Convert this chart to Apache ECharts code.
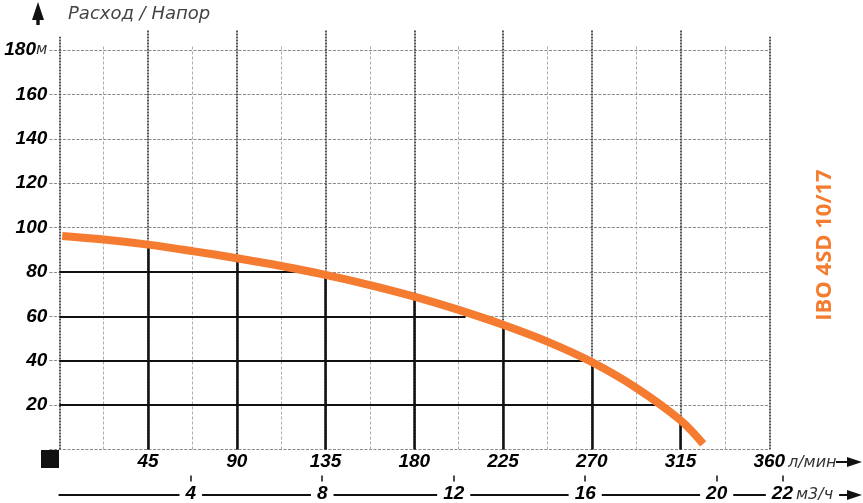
<!DOCTYPE html>
<html>
<head>
<meta charset="utf-8">
<script src="https://cdn.jsdelivr.net/npm/echarts@6/dist/echarts.min.js"></script>
<style>
  html, body { margin: 0; background: #fff; }
  #chart { width: 863px; height: 503px; }
</style>
</head>
<body>
<div id="chart"></div>
<script>
// axis ticks
const flowTicks = [45, 90, 135, 180, 225, 270, 315, 360]; // л/мин
const m3hTicks = [4, 8, 12, 16, 20, 22]; // м3/ч
const headTicks = [20, 40, 60, 80, 100, 120, 140, 160, 180]; // м
const gridY = [0, 20, 40, 60, 80, 100, 120, 140, 160, 180];
const majorX = [0, 45, 90, 135, 180, 225, 270, 315, 360];
const minorX = [22.5, 67.5, 112.5, 157.5, 202.5, 247.5, 292.5, 337.5];

// pump curve, [л/мин, м]
const pumpCurve = [
  [1.5, 96.2], [22.5, 94.6], [45, 92.3], [67.5, 89.4], [90, 86.2],
  [112.5, 82.7], [135, 78.7], [157.5, 74.1], [180, 68.9], [202.5, 62.9],
  [225, 56.2], [247.5, 48.6], [270, 39.4], [292.5, 27.8], [315, 13.2], [326.5, 2.5]
];
// black drop lines under the curve
const dropX = [45, 90, 135, 180, 225, 270, 315];
const levelEnds = [[20, 303.6], [40, 268], [60, 206], [80, 125]]; // [м, л/мин where curve crosses]

const FONT = '"Open Sans", "DejaVu Sans", sans-serif';
const NUMFONT = '"Liberation Sans", Arial, sans-serif';
const THIN = '"DejaVu Sans", sans-serif';
const ORANGE = '#F47B2F';

function headAt(x) {
  return pumpCurve.find(p => p[0] === x)[1];
}

const numStyle = {
  fontFamily: NUMFONT, fontSize: 19, fontWeight: 'bold', fontStyle: 'italic', color: '#000'
};

var chart = echarts.init(document.getElementById('chart'));
var option = {
  animation: false,
  backgroundColor: '#fff',
  grid: { left: 59.3, right: 54.3, top: 50, bottom: 53.5, containLabel: false, outerBoundsMode: 'none' },
  xAxis: [
    {
      type: 'value', min: 0, max: 380,
      axisLine: { show: false }, axisTick: { show: false }, splitLine: { show: false },
      axisLabel: Object.assign({ customValues: flowTicks, margin: 3 }, numStyle)
    },
    {
      type: 'value', min: 0, max: 22.8, position: 'bottom', offset: 26,
      axisLine: { show: false }, splitLine: { show: false },
      axisTick: { show: true, customValues: m3hTicks, length: 6, lineStyle: { color: '#111', width: 1.5 } },
      axisLabel: { show: false }
    },
    {
      type: 'value', min: 0, max: 22.8, position: 'bottom', offset: 45.5,
      axisLine: { show: true, lineStyle: { color: '#111', width: 2 } },
      axisTick: { show: false }, splitLine: { show: false },
      axisLabel: Object.assign({
        customValues: m3hTicks, margin: -11,
        backgroundColor: '#fff', padding: [0, 6]
      }, numStyle)
    }
  ],
  yAxis: {
    type: 'value', min: 0, max: 180, interval: 20,
    axisLine: { show: false }, axisTick: { show: false }, splitLine: { show: false },
    axisLabel: {
      customValues: headTicks, margin: 12,
      formatter: v => v === 180 ? '{n|180}{u|м}' : '{n|' + v + '}',
      rich: {
        n: numStyle,
        u: { fontFamily: THIN, fontSize: 15, fontWeight: 200, fontStyle: 'italic', color: '#333' }
      }
    }
  },
  series: [
    {
      type: 'lines', coordinateSystem: 'cartesian2d', clip: false, silent: true, z: 1,
      lineStyle: { color: '#888', width: 1, type: [3, 1.5], opacity: 1 },
      data: gridY.map(y => ({ coords: [[-5, y], [360, y]] }))
    },
    {
      type: 'lines', coordinateSystem: 'cartesian2d', clip: false, silent: true, z: 1,
      lineStyle: { color: '#aaa', width: 1, type: [3, 2], opacity: 1 },
      data: minorX.map(x => ({ coords: [[x, 0], [x, 182]] }))
    },
    {
      type: 'lines', coordinateSystem: 'cartesian2d', clip: false, silent: true, z: 1,
      lineStyle: { color: '#555', width: 2, type: [2, 1], opacity: 1 },
      data: majorX.map(x => ({ coords: [[x, 0], [x, (x === 0 || x === 360) ? 186 : 189]] }))
    },
    {
      type: 'lines', coordinateSystem: 'cartesian2d', clip: false, silent: true, z: 2,
      lineStyle: { color: '#111', width: 2.5, opacity: 1 },
      data: dropX.map(x => ({ coords: [[x, 0], [x, headAt(x)]] }))
    },
    {
      type: 'lines', coordinateSystem: 'cartesian2d', clip: false, silent: true, z: 2,
      lineStyle: { color: '#111', width: 2, opacity: 1 },
      data: levelEnds.map(([y, x]) => ({ coords: [[0, y], [x, y]] }))
    },
    {
      type: 'line', smooth: 0.35, symbol: 'none', z: 5, silent: true,
      lineStyle: { color: ORANGE, width: 8, cap: 'butt' },
      data: pumpCurve
    }
  ],
  graphic: [
    { type: 'rect', shape: { x: 41, y: 450, width: 18, height: 18 }, style: { fill: '#111' } },
    {
      type: 'polygon',
      shape: { points: [[38, 2], [44, 20], [39.7, 20], [39.7, 25], [36.3, 25], [36.3, 20], [32, 20]] },
      style: { fill: '#111' }
    },
    {
      type: 'text', x: 68, y: 14,
      style: { text: 'Расход / Напор', font: 'italic 200 18px ' + THIN, fill: '#444', textVerticalAlign: 'middle' }
    },
    {
      type: 'text', x: 788, y: 463, z: 10,
      style: { text: 'л/мин', font: 'italic 200 16px ' + THIN, fill: '#333', textVerticalAlign: 'middle' }
    },
    {
      type: 'polygon', shape: { points: [[836, 461], [847, 461], [847, 457], [862, 462], [847, 467], [847, 463], [836, 463]] },
      style: { fill: '#111' }
    },
    {
      type: 'text', x: 796, y: 495, z: 10,
      style: {
        text: 'м3/ч', font: 'italic 200 16px ' + THIN, fill: '#333', textVerticalAlign: 'middle',
        backgroundColor: '#fff', padding: [2, 6, 2, 0]
      }
    },
    {
      type: 'polygon', shape: { points: [[836, 494], [847, 494], [847, 490], [862, 495], [847, 500], [847, 496], [836, 496]] },
      style: { fill: '#111' }
    },
    {
      type: 'text', x: 825, y: 245, rotation: Math.PI / 2,
      style: {
        text: 'IBO 4SD 10/17', font: 'bold 22px ' + FONT, fill: ORANGE,
        textAlign: 'center', textVerticalAlign: 'middle'
      }
    }
  ]
};
chart.setOption(option);
</script>
</body>
</html>
